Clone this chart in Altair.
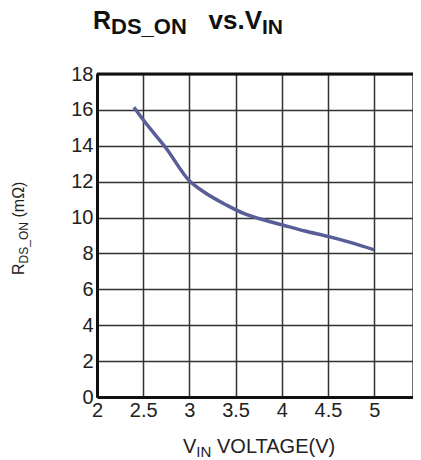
import altair as alt
import pandas as pd

# Data
vin = [2.4, 2.5, 2.75, 3.0, 3.15, 3.4, 3.6, 3.75, 4.0, 4.25, 4.5, 4.75, 5.0]
rds = [16.15, 15.45, 13.85, 12.05, 11.45, 10.7, 10.2, 9.95, 9.6, 9.25, 8.95, 8.6, 8.2]

x_ticks = [2, 2.5, 3, 3.5, 4, 4.5, 5]
y_ticks = [0, 2, 4, 6, 8, 10, 12, 14, 16, 18]

title_parts = ["R", "DS_ON", "vs.V", "IN"]
ytitle_parts = ["R", "DS_ON", "(mΩ)"]
xtitle_parts = ["V", "IN", "VOLTAGE(V)"]

FONT = "Liberation Sans"
df = pd.DataFrame({"vin": vin, "rds": rds})
one = pd.DataFrame({"k": [0]})

y_scale = alt.Scale(domain=[0, 18], nice=False)
y_axis = alt.Axis(values=y_ticks, title=None, grid=True, gridColor="#333", gridWidth=1.5,
                  labelOverlap=False, labelBound=False, labelFlush=False,
                  ticks=False, domainColor="#111", domainWidth=3, labelFont=FONT,
                  labelFontSize=20, labelColor="#222", labelPadding=4)

base = alt.Chart(df).mark_line(color="#5a5e98", strokeWidth=3.5, interpolate="monotone").encode(
    x=alt.X("vin:Q", scale=alt.Scale(domain=[2, 5.42], nice=False),
            axis=alt.Axis(values=x_ticks, title=None, format="~g",
                          labelOverlap=False, labelBound=False, labelFlush=False,
                          grid=True, gridColor="#333", gridWidth=1.5, ticks=False,
                          domainColor="#111", domainWidth=3, labelFont=FONT, labelFontSize=20,
                          labelColor="#222", labelPadding=3)),
    y=alt.Y("rds:Q", scale=y_scale, axis=y_axis),
)

top_rule = alt.Chart(one).mark_rule(color="#111", strokeWidth=3).encode(
    y=alt.Y(datum=18, scale=y_scale, axis=y_axis))


def txt(s, x, y, size, bold=False, align="left", angle=0, color="#222"):
    kw = dict(text=s, align=align, baseline="alphabetic", font=FONT, fontSize=size,
              fontWeight="bold" if bold else "normal", color=color)
    if angle:
        kw["angle"] = angle
    return alt.Chart(one).mark_text(**kw).encode(x=alt.value(x), y=alt.value(y))


# title
t1 = txt(title_parts[0], -4, -45, 25, bold=True, color="#111")
t2 = txt(title_parts[1], 14, -40, 22, bold=True, color="#111")
t3 = txt(title_parts[2], 165, -45, 26, bold=True, align="right", color="#111")
t4 = txt(title_parts[3], 165, -40, 21, bold=True, color="#111")

# y-axis title (rotated)
y1 = txt(ytitle_parts[0], -73, 201, 16, angle=270)
y2 = txt(ytitle_parts[1], -69, 189.4, 12, angle=270)
y3 = txt(ytitle_parts[2], -73, 143.5, 16, angle=270)

# x-axis title
x1 = txt(xtitle_parts[0], 86, 379, 20)
x2 = txt(xtitle_parts[1], 99.3, 383, 15)
x3 = txt(xtitle_parts[2], 120, 379, 20)

chart = alt.layer(base, top_rule, t1, t2, t3, t4, y1, y2, y3, x1, x2, x3).properties(
    width=316, height=323,
    autosize=alt.AutoSizeParams(type="none"),
    padding={"left": 89, "top": 66, "right": 0, "bottom": 62},
).configure_view(stroke="#444", strokeWidth=1.5)

chart.save("out.html", embed_options={"renderer": "svg", "actions": False})
